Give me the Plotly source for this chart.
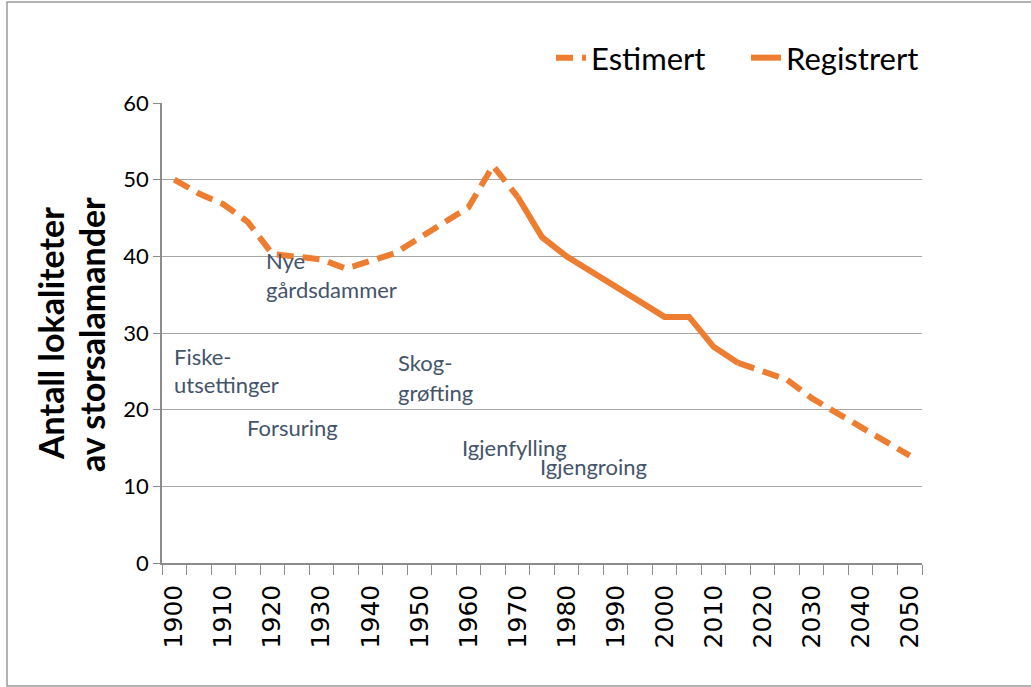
import plotly.graph_objects as go

years = [1900, 1905, 1910, 1915, 1920, 1925, 1930, 1935, 1940, 1945,
         1950, 1955, 1960, 1965, 1970, 1975, 1980, 1985, 1990, 1995,
         2000, 2005, 2010, 2015, 2020, 2025, 2030, 2035, 2040, 2045, 2050]

estimert = [50.0, 48.2, 46.8, 44.5, 40.3, 40.0, 39.6, 38.4, 39.3, 40.4,
            42.4, 44.3, 46.4, 51.8, 47.8, None, None, None, None, None,
            None, None, None, 26.1, 24.9, 23.9, 21.5, 19.6, 17.8, 16.0, 14.0]

registrert = [None, None, None, None, None, None, None, None, None, None,
              None, None, None, None, 47.8, 42.5, 40.0, 38.1, 36.0, 34.1,
              32.1, 32.1, 28.2, 26.1, None, None, None, None, None, None, None]

tick_years = [1900, 1910, 1920, 1930, 1940, 1950, 1960, 1970, 1980, 1990,
              2000, 2010, 2020, 2030, 2040, 2050]
tick_labels = [str(y) for y in tick_years]

notes = [
    ("Fiske-", 1899.5, 27.0),
    ("utsettinger", 1899.5, 23.3),
    ("Forsuring", 1914.5, 17.7),
    ("Nye", 1918.2, 39.4),
    ("gårdsdammer", 1918.2, 35.7),
    ("Skog-", 1945.2, 26.1),
    ("grøfting", 1945.2, 22.2),
    ("Igjenfylling", 1958.2, 15.1),
    ("Igjengroing", 1974.2, 12.6),
]

ORANGE = "#ED7D31"
GRID = "#A6A6A6"
AXIS = "#8C8C8C"
NOTE = "#44546A"

fig = go.Figure()
fig.add_trace(go.Scatter(x=years, y=estimert, mode="lines", name="Estimert",
                         line=dict(color=ORANGE, width=6, dash="17px,9px"),
                         connectgaps=False))
fig.add_trace(go.Scatter(x=years, y=registrert, mode="lines", name="Registrert",
                         line=dict(color=ORANGE, width=6),
                         connectgaps=False))

L, R, T, B = 162, 109, 103, 124
W, H = 1031, 687
pw, ph = W - L - R, H - T - B

def px_x(px):
    return (px - L) / pw

def px_y(py):
    return (H - B - py) / ph

annotations = []
for txt, x, y in notes:
    annotations.append(dict(text=txt, x=x, y=y, xref="x", yref="y",
                            xanchor="left", yanchor="middle", showarrow=False,
                            font=dict(family="Lato", size=22, color=NOTE)))

annotations.append(dict(text="<b>Antall lokaliteter</b>", x=px_x(50), y=px_y(334),
                        xref="paper", yref="paper", textangle=-90, showarrow=False,
                        xanchor="center", yanchor="middle",
                        font=dict(family="Lato", size=34, color="black")))
annotations.append(dict(text="<b>av storsalamander</b>", x=px_x(91), y=px_y(335),
                        xref="paper", yref="paper", textangle=-90, showarrow=False,
                        xanchor="center", yanchor="middle",
                        font=dict(family="Lato", size=34, color="black")))

fig.update_layout(
    width=W, height=H,
    margin=dict(l=L, r=R, t=T, b=B),
    paper_bgcolor="white", plot_bgcolor="white",
    showlegend=True,
    legend=dict(orientation="h", x=px_x(551), y=px_y(58), xref="paper", yref="paper",
                xanchor="left", yanchor="middle",
                font=dict(family="Lato", size=31, color="black"),
                entrywidth=150, entrywidthmode="pixels",
                bgcolor="rgba(0,0,0,0)"),
    annotations=annotations,
    shapes=[dict(type="rect", xref="paper", yref="paper",
                 x0=px_x(7), x1=px_x(1045), y0=px_y(686), y1=px_y(2),
                 line=dict(color="#9A9A9A", width=1.5), fillcolor="rgba(0,0,0,0)",
                 layer="below")],
)

fig.update_xaxes(
    range=[1897.5, 2052.5],
    tickmode="array", tickvals=tick_years, ticktext=tick_labels,
    tickangle=-90, ticks="", showgrid=False,
    tickfont=dict(family="DejaVu Sans", size=25, color="black"),
    ticklabelstandoff=10,
    showline=True, linecolor=AXIS, linewidth=1.5,
    zeroline=False,
    minor=dict(tickmode="linear", tick0=1897.5, dtick=5, ticks="outside",
               ticklen=10, tickcolor=AXIS, tickwidth=1.2, showgrid=False),
)

fig.update_yaxes(
    range=[0, 60], tickmode="linear", tick0=0, dtick=10,
    ticks="outside", ticklen=7, tickcolor=AXIS, tickwidth=1.2,
    showgrid=True, gridcolor=GRID, gridwidth=1.2,
    showline=True, linecolor=AXIS, linewidth=1.5,
    zeroline=False,
    tickfont=dict(family="Lato", size=22, color="black"),
)

fig.write_html("out.html", config={"displayModeBar": False},
               post_script="document.body.style.margin='0px';")
